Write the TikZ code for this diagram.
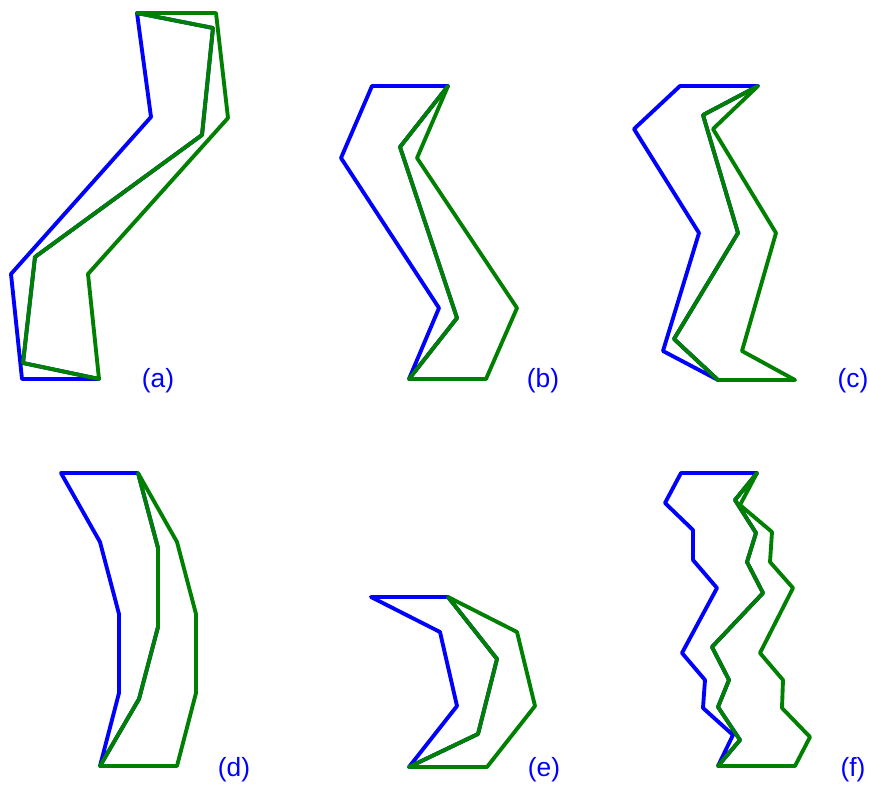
\documentclass[tikz,border=0pt]{standalone}
\usepackage{fontspec}
\setmainfont{Liberation Sans}
\usetikzlibrary{positioning}

\definecolor{polyblue}{RGB}{0,0,255}
\definecolor{polygreen}{RGB}{0,128,0}

\begin{document}
\begin{tikzpicture}[
    x=0.02cm, y=-0.02cm,
    blueline/.style={
        draw=polyblue, line width=2.2pt, line join=round
    },
    greenline/.style={
        draw=polygreen, line width=2.2pt, line join=round
    },
    panellabel/.style={
        text=polyblue, inner sep=0pt, font=\fontsize{15}{18}\selectfont
    }
]

    % Bounding box
    \useasboundingbox (0,0) rectangle (870,786);

    % Panel (a)
    \draw[blueline] (137,13) -- (151,117) -- (11,274) -- (22,379) -- (99,379) -- (23,363) -- (35,257) -- (202,135) -- (213,28) -- cycle;
    \draw[greenline] (99,379) -- (23,363) -- (35,257) -- (202,135) -- (213,28) -- (137,13) -- (216,13) -- (228,118) -- (88,274) -- cycle;
    \node[panellabel] (lbla) at (158,381) {(a)};

    % Panel (b)
    \draw[blueline] (448,86) -- (372,86) -- (341,158) -- (439,308) -- (409,379) -- (457,318) -- (400,147) -- cycle;
    \draw[greenline] (409,379) -- (457,318) -- (400,147) -- (448,86) -- (417,158) -- (517,308) -- (486,379) -- cycle;
    \node[panellabel] (lblb) at (543,381) {(b)};

    % Panel (c)
    \draw[blueline] (758,86) -- (680,86) -- (634,129) -- (699,233) -- (663,351) -- (718,380) -- (674,339) -- (738,233) -- (703,115) -- cycle;
    \draw[greenline] (718,380) -- (674,339) -- (738,233) -- (703,115) -- (758,86) -- (713,129) -- (776,233) -- (742,351) -- (795,380) -- cycle;
    \node[panellabel] (lblc) at (853,381) {(c)};

    % Panel (d)
    \draw[blueline] (138,473) -- (61,473) -- (100,542) -- (119,614) -- (119,693) -- (100,766) -- (139,699) -- (158,627) -- (158,548) -- cycle;
    \draw[greenline] (100,766) -- (139,699) -- (158,627) -- (158,548) -- (138,473) -- (177,542) -- (196,614) -- (196,693) -- (177,766) -- cycle;
    \node[panellabel] (lbld) at (234,770) {(d)};

    % Panel (e)
    \draw[blueline] (448,597) -- (371,597) -- (440,632) -- (457,706) -- (409,767) -- (478,734) -- (497,659) -- cycle;
    \draw[greenline] (409,767) -- (478,734) -- (497,659) -- (448,597) -- (517,632) -- (535,706) -- (487,767) -- cycle;
    \node[panellabel] (lble) at (544,770) {(e)};

    % Panel (f)
    \draw[blueline] (757,473) -- (681,473) -- (665,503) -- (693,530) -- (693,560) -- (717,588) -- (682,653) -- (705,680) -- (703,708) -- (733,735) -- (718,766) -- (740,740) -- (718,707) -- (729,680) -- (712,647) -- (763,593) -- (747,562) -- (756,533) -- (735,500) -- cycle;
    \draw[greenline] (718,766) -- (740,740) -- (718,707) -- (729,680) -- (712,647) -- (763,593) -- (747,562) -- (756,533) -- (735,500) -- (757,473) -- (740,505) -- (772,532) -- (770,562) -- (793,588) -- (760,653) -- (783,680) -- (782,708) -- (810,737) -- (795,766) -- cycle;
    \node[panellabel] (lblf) at (853,770) {(f)};

\end{tikzpicture}
\end{document}
